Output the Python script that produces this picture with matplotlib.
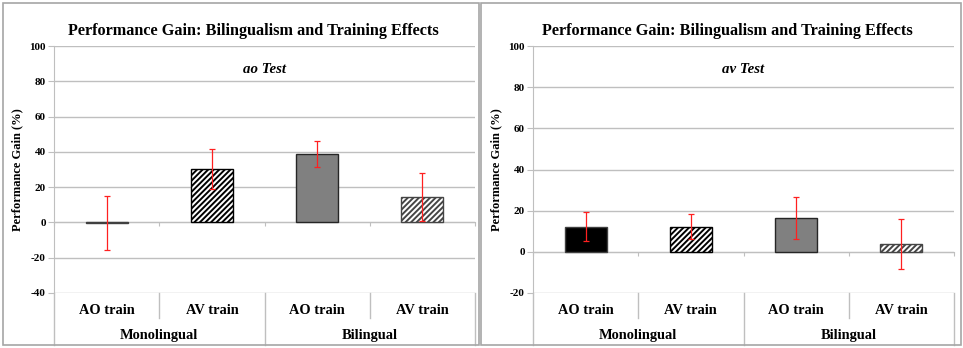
import matplotlib
matplotlib.use("Agg")
import matplotlib.pyplot as plt
import matplotlib.transforms as mtransforms
from matplotlib.patches import Rectangle
from matplotlib.lines import Line2D

plt.rcParams['font.family'] = ['Liberation Serif', 'DejaVu Serif']
plt.rcParams['font.weight'] = 'bold'
plt.rcParams['hatch.linewidth'] = 1.4
plt.rcParams['axes.unicode_minus'] = False

# data
train_labels = ['AO train', 'AV train', 'AO train', 'AV train']
group_labels = ['Monolingual', 'Bilingual']
ao_gain = [-0.3, 30.1, 38.6, 14.5]
ao_err = [15.5, 11.3, 7.3, 13.7]
av_gain = [12.3, 12.3, 16.5, 4.0]
av_err = [7.0, 6.1, 10.3, 12.1]

title = 'Performance Gain: Bilingualism and Training Effects'
ylabel = 'Performance Gain (%)'

# bar styles: mono AO, mono AV, bil AO, bil AV
faces = ['black', 'white', '#808080', 'white']
edges = ['#404040', 'black', '#262626', '#454545']
hatches = [None, '//////', None, '//////']

grid_col = '#BFBFBF'

fig = plt.figure(figsize=(9.63, 3.48), dpi=100)

# panel borders
fig.patches.append(Rectangle((3/963, 3/348), 476/963, 342/348, transform=fig.transFigure,
                             fill=False, edgecolor='#A6A6A6', lw=1.2))
fig.patches.append(Rectangle((481/963, 3/348), 480/963, 342/348, transform=fig.transFigure,
                             fill=False, edgecolor='#A6A6A6', lw=1.2))


def draw_panel(rect, gains, errs, subtitle, ylo, title_x):
    ax = fig.add_axes(rect)
    x = list(range(len(gains)))
    for i in x:
        ax.bar(i, gains[i], width=0.4, color=faces[i], edgecolor=edges[i],
               hatch=hatches[i], linewidth=1.0, zorder=3)
    ax.errorbar(x, gains, yerr=errs, fmt='none', ecolor='#FF2020', elinewidth=0.9,
                capsize=2.5, capthick=0.9, zorder=4)

    ax.set_xlim(-0.5, 3.5)
    ax.set_ylim(ylo, 100)
    ax.set_yticks(range(ylo, 101, 20))
    ax.yaxis.grid(True, color=grid_col, lw=1.0, zorder=0)
    ax.set_axisbelow(True)
    for s in ['top', 'right']:
        ax.spines[s].set_visible(False)
    ax.spines['left'].set_color(grid_col)
    ax.spines['bottom'].set_position(('data', 0))
    ax.spines['bottom'].set_color(grid_col)
    ax.set_xticks([-0.5, 0.5, 1.5, 2.5, 3.5])
    ax.set_xticklabels([])
    ax.tick_params(axis='x', direction='out', length=3, color=grid_col)
    ax.tick_params(axis='y', direction='out', length=4, color=grid_col, labelsize=8, pad=2)
    for lab in ax.get_yticklabels():
        lab.set_fontweight('bold')
    ax.set_ylabel(ylabel, fontsize=9, fontweight='bold', labelpad=4)

    # category table under the plot
    tr = mtransforms.blended_transform_factory(ax.transData, ax.transAxes)
    for i, lab in enumerate(train_labels):
        ax.text(i, -0.069, lab, transform=tr, ha='center', va='center',
                fontsize=10.4, fontweight='bold')
    for g, lab in enumerate(group_labels):
        ax.text(2 * g + 0.5, -0.174, lab, transform=tr, ha='center', va='center',
                fontsize=10.4, fontweight='bold')
    for xb in [0.5, 2.5]:
        ax.add_line(Line2D([xb, xb], [0, -0.101], transform=tr, color=grid_col,
                           lw=1.0, clip_on=False))
    for xb in [-0.5, 1.5, 3.5]:
        ax.add_line(Line2D([xb, xb], [0, -0.21], transform=tr, color=grid_col,
                           lw=1.0, clip_on=False))

    ax.text(0.5, 0.905, subtitle, transform=ax.transAxes, ha='center', va='center',
            fontsize=10.7, fontweight='bold', style='italic')
    fig.text(title_x, 1 - 31/348, title, ha='center', va='center',
             fontsize=11.7, fontweight='bold')
    return ax


draw_panel([54/963, 55/348, 421/963, 247/348], ao_gain, ao_err, 'ao Test', -40, 253/963)
draw_panel([533/963, 55/348, 421/963, 247/348], av_gain, av_err, 'av Test', -20, 727/963)

fig.savefig('out.png', dpi=100)
